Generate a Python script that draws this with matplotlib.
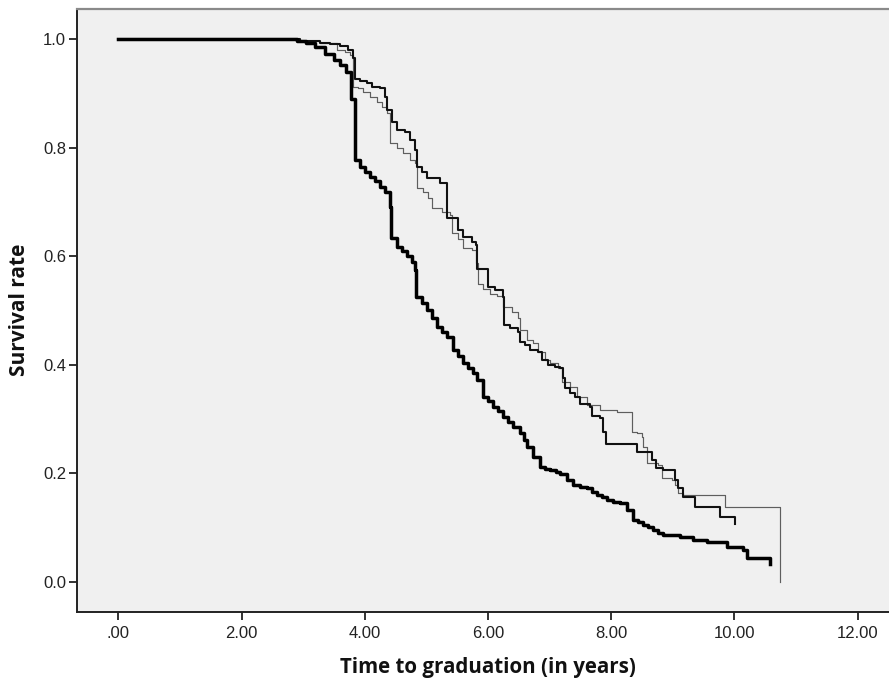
import matplotlib
matplotlib.use("Agg")
import matplotlib.pyplot as plt

# ---- data (time in years, survival rate) ----
thick_t = [0, 2.6, 2.9, 3.05, 3.2, 3.35, 3.5, 3.6, 3.7, 3.78, 3.84, 3.92, 4.0, 4.08, 4.17, 4.25,
           4.33, 4.41, 4.43, 4.52, 4.6, 4.69, 4.77, 4.82, 4.84, 4.93, 5.01, 5.09, 5.17, 5.25, 5.34,
           5.43, 5.51, 5.59, 5.68, 5.76, 5.82, 5.92, 6.0, 6.08, 6.17, 6.25, 6.33, 6.41, 6.52, 6.59,
           6.64, 6.73, 6.84, 6.93, 7.01, 7.1, 7.17, 7.28, 7.38, 7.49, 7.61, 7.69, 7.77, 7.85, 7.94,
           8.03, 8.14, 8.26, 8.36, 8.44, 8.52, 8.6, 8.68, 8.76, 8.84, 9.12, 9.33, 9.56, 9.88, 10.14,
           10.2, 10.58]
thick_s = [1.0, 1.0, 0.997, 0.993, 0.985, 0.972, 0.962, 0.952, 0.94, 0.89, 0.777, 0.764, 0.755,
           0.746, 0.738, 0.727, 0.718, 0.691, 0.633, 0.617, 0.609, 0.6, 0.589, 0.574, 0.525, 0.513,
           0.5, 0.486, 0.47, 0.46, 0.451, 0.427, 0.416, 0.403, 0.394, 0.385, 0.372, 0.34, 0.333,
           0.322, 0.314, 0.303, 0.294, 0.285, 0.274, 0.261, 0.248, 0.23, 0.211, 0.208, 0.206, 0.202,
           0.199, 0.188, 0.178, 0.175, 0.173, 0.165, 0.16, 0.156, 0.151, 0.147, 0.145, 0.132, 0.114,
           0.11, 0.104, 0.101, 0.095, 0.09, 0.086, 0.082, 0.077, 0.073, 0.064, 0.058, 0.044, 0.033]

medium_t = [0, 2.7, 2.95, 3.27, 3.44, 3.6, 3.73, 3.81, 3.84, 3.92, 4.04, 4.12, 4.25, 4.33, 4.36,
            4.44, 4.52, 4.65, 4.74, 4.82, 4.85, 4.93, 5.01, 5.22, 5.33, 5.51, 5.59, 5.74, 5.80,
            5.83, 6.0, 6.11, 6.24, 6.26, 6.36, 6.49, 6.52, 6.6, 6.68, 6.81, 6.88, 6.98, 7.09, 7.17,
            7.22, 7.25, 7.33, 7.41, 7.5, 7.66, 7.69, 7.82, 7.87, 7.92, 8.42, 8.66, 8.73, 8.84, 9.04,
            9.08, 9.17, 9.36, 9.77, 10.01]
medium_s = [1.0, 1.0, 0.997, 0.992, 0.99, 0.987, 0.979, 0.965, 0.926, 0.922, 0.919, 0.912, 0.910,
            0.893, 0.869, 0.847, 0.832, 0.828, 0.813, 0.795, 0.764, 0.755, 0.744, 0.735, 0.67,
            0.648, 0.635, 0.626, 0.621, 0.576, 0.543, 0.537, 0.525, 0.473, 0.467, 0.46, 0.442,
            0.436, 0.427, 0.424, 0.409, 0.4, 0.396, 0.394, 0.376, 0.357, 0.348, 0.34, 0.328, 0.322,
            0.305, 0.302, 0.276, 0.254, 0.239, 0.225, 0.21, 0.206, 0.187, 0.172, 0.156, 0.138, 0.12,
            0.106]

thin_t = [0, 2.7, 2.95, 3.27, 3.55, 3.68, 3.76, 3.81, 3.89, 3.97, 4.09, 4.2, 4.28, 4.36, 4.41,
          4.52, 4.62, 4.74, 4.82, 4.85, 4.95, 5.03, 5.09, 5.26, 5.38, 5.42, 5.51, 5.59, 5.74, 5.81,
          5.84, 5.92, 6.03, 6.15, 6.24, 6.39, 6.49, 6.52, 6.63, 6.73, 6.81, 6.93, 7.01, 7.14, 7.2,
          7.33, 7.45, 7.61, 7.82, 8.1, 8.34, 8.42, 8.5, 8.52, 8.58, 8.76, 8.83, 8.99, 9.04, 9.09,
          9.17, 9.85, 10.74]
thin_s = [1.0, 1.0, 0.997, 0.992, 0.98, 0.976, 0.971, 0.912, 0.910, 0.902, 0.893, 0.884, 0.875,
          0.864, 0.809, 0.799, 0.79, 0.777, 0.772, 0.725, 0.718, 0.707, 0.689, 0.681, 0.676, 0.643,
          0.632, 0.615, 0.611, 0.587, 0.549, 0.54, 0.53, 0.527, 0.506, 0.497, 0.486, 0.464, 0.446,
          0.44, 0.424, 0.409, 0.403, 0.394, 0.368, 0.359, 0.34, 0.326, 0.317, 0.313, 0.276, 0.274,
          0.267, 0.248, 0.219, 0.215, 0.191, 0.188, 0.179, 0.164, 0.16, 0.138, 0.0]

x_ticks = [0, 2, 4, 6, 8, 10, 12]
x_ticklabels = [".00", "2.00", "4.00", "6.00", "8.00", "10.00", "12.00"]
y_ticks = [0.0, 0.2, 0.4, 0.6, 0.8, 1.0]
y_ticklabels = ["0.0", "0.2", "0.4", "0.6", "0.8", "1.0"]

# ---- figure ----
W, H = 889, 680
fig = plt.figure(figsize=(W / 100, H / 100), dpi=100)
fig.patch.set_facecolor("white")
ax_left, ax_bottom, ax_top = 77.3, 612, 9
ax = fig.add_axes([ax_left / W, (H - ax_bottom) / H, 1 - ax_left / W, (ax_bottom - ax_top) / H])
ax.set_facecolor("#f0f0f0")

ax.plot(thin_t, thin_s, drawstyle="steps-post", color="#5e5e5e", lw=0.85, zorder=3)
ax.plot(medium_t, medium_s, drawstyle="steps-post", color="#111111", lw=1.5, zorder=4)
ax.plot(thick_t, thick_s, drawstyle="steps-post", color="#000000", lw=2.5, zorder=5)

ax.set_xlim(-0.666, 12.51)
ax.set_ylim(-0.0559, 1.0553)
ax.set_xticks(x_ticks)
ax.set_xticklabels(x_ticklabels)
ax.set_yticks(y_ticks)
ax.set_yticklabels(y_ticklabels)

for lab in ax.get_xticklabels() + ax.get_yticklabels():
    lab.set_fontfamily("Liberation Sans")
    lab.set_fontsize(12)
    lab.set_color("#222222")
ax.tick_params(axis="both", direction="out", length=6, width=1.3, color="#222222")
ax.tick_params(axis="x", pad=4)
ax.tick_params(axis="y", pad=2)

for s in ["left", "bottom"]:
    ax.spines[s].set_color("#222222")
    ax.spines[s].set_linewidth(1.4)
ax.spines["top"].set_color("#8a8a8a")
ax.spines["top"].set_linewidth(1.6)
ax.spines["right"].set_visible(False)

fig.text(488 / W, 1 - 667 / H, "Time to graduation (in years)", ha="center", va="center",
         fontsize=14.8, fontweight="bold", family="Open Sans", color="#111111")
fig.text(20 / W, 1 - 310 / H, "Survival rate", ha="center", va="center", rotation=90,
         fontsize=15, fontweight="bold", family="Open Sans", color="#111111")

fig.savefig("out.png", dpi=100)
